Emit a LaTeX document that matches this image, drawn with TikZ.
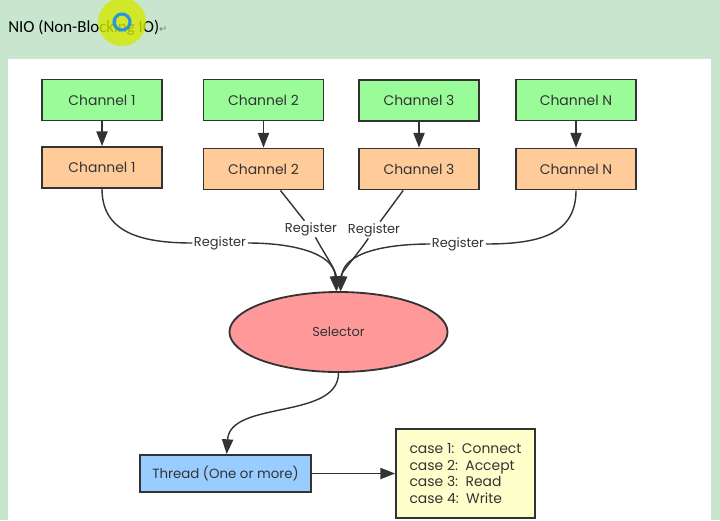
\documentclass[tikz,border=0pt]{standalone}
\usepackage{fontspec}
\setmainfont{Carlito}
\newfontfamily\gotica{Poppins}
\newfontfamily\simbolo{DejaVu Sans}
\usetikzlibrary{arrows.meta,shapes.geometric,positioning}
\definecolor{fondito}{RGB}{200,230,206}
\definecolor{canalverde}{RGB}{153,252,153}
\definecolor{canalnaranja}{RGB}{255,204,153}
\definecolor{selectorrojo}{RGB}{255,153,153}
\definecolor{hiloazul}{RGB}{153,204,255}
\definecolor{casoamarillo}{RGB}{255,255,204}
\definecolor{bordecito}{RGB}{51,51,51}
\definecolor{amarillito}{RGB}{212,232,0}
\definecolor{azulito}{RGB}{40,150,220}
\tikzset{>={Triangle[length=10.5pt,width=8pt]},
  caja/.style={draw=bordecito, line width=1.3pt, text=bordecito, font=\gotica\fontsize{9.9}{11}\selectfont},
  canal/.style={caja, minimum width=3cm, minimum height=1.025cm},
  flechita/.style={draw=bordecito, line width=1pt},
  registro/.style={fill=white, inner sep=1pt, text=bordecito, font=\gotica\fontsize{9.2}{11}\selectfont}}

\begin{document}
\begin{tikzpicture}[x=0.025cm,y=-0.025cm]
	\useasboundingbox (0,0) rectangle (720,520);
	\fill[fondito] (0,0) rectangle (720,520);
	\fill[white] (8,59) rectangle (711,520);

	% titulo
	\node[anchor=base west, inner sep=0pt, font=\fontsize{12}{14}\selectfont] (titulo) at (8,32) {NIO (Non-Blocking IO)\textcolor{gray}{\simbolo\fontsize{7}{8}\selectfont ↵}};
	\fill[amarillito, opacity=0.8] (122,22) circle[radius=0.6cm];
	\draw[azulito, line width=2.2pt] (122,22) circle[radius=0.2cm];

	% canales
	\node[canal, fill=canalverde] (v1) at (102,100) {Channel 1};
	\node[canal, fill=canalverde] (v2) at (263.5,100) {Channel 2};
	\node[canal, fill=canalverde] (v3) at (419,100.5) {Channel 3};
	\node[canal, fill=canalverde] (v4) at (576,100) {Channel N};

	\node[canal, fill=canalnaranja] (n1) at (102,167.5) {Channel 1};
	\node[canal, fill=canalnaranja] (n2) at (263.5,169) {Channel 2};
	\node[canal, fill=canalnaranja] (n3) at (419,169) {Channel 3};
	\node[canal, fill=canalnaranja] (n4) at (576,169) {Channel N};

	\draw[->, flechita] (v1) -- (n1);
	\draw[->, flechita] (v2) -- (n2);
	\draw[->, flechita] (v3) -- (n3);
	\draw[->, flechita] (v4) -- (n4);

	% selector
	\node[caja, ellipse, fill=selectorrojo, minimum width=5.45cm, minimum height=2cm, font=\gotica\fontsize{9.2}{11}\selectfont] (sel) at (338.5,332) {Selector};

	\node[registro] (r1) at (220,243) {Register};
	\node[registro] (r2) at (311,229) {Register};
	\node[registro] (r3) at (374,230) {Register};
	\node[registro] (r4) at (458,244) {Register};

	\draw[flechita] (n1) .. controls (102,232) and (140,243) .. (r1);
	\draw[->, flechita] (r1) .. controls (290,243) and (334,252) .. (sel);
	\draw[flechita] (n2) -- (r2);
	\draw[->, flechita] (r2) .. controls (325,255) and (336,270) .. (sel);
	\draw[flechita] (n3) -- (r3);
	\draw[->, flechita] (r3) .. controls (355,258) and (341,272) .. (sel);
	\draw[flechita] (n4) .. controls (576,234) and (540,244) .. (r4);
	\draw[->, flechita] (r4) .. controls (387,244) and (343,252) .. (sel);

	% hilo y casos
	\node[caja, fill=hiloazul, minimum width=4.275cm, minimum height=0.925cm, font=\gotica\fontsize{9.5}{11}\selectfont] (hilo) at (225.5,473.5) {Thread (One or more)};
	\node[caja, fill=casoamarillo, minimum width=3.475cm, minimum height=2.225cm, align=left] (casos) at (465.5,473.5)
		{case 1:\ \ Connect\\[1pt] case 2:\ \ Accept\\[1pt] case 3:\ \ Read\\[1pt] case 4:\ \ Write};

	\draw[->, flechita] (sel) .. controls (338.5,420) and (230,400) .. (hilo);
	\draw[->, flechita] (hilo) -- (casos);

\end{tikzpicture}
\end{document}
